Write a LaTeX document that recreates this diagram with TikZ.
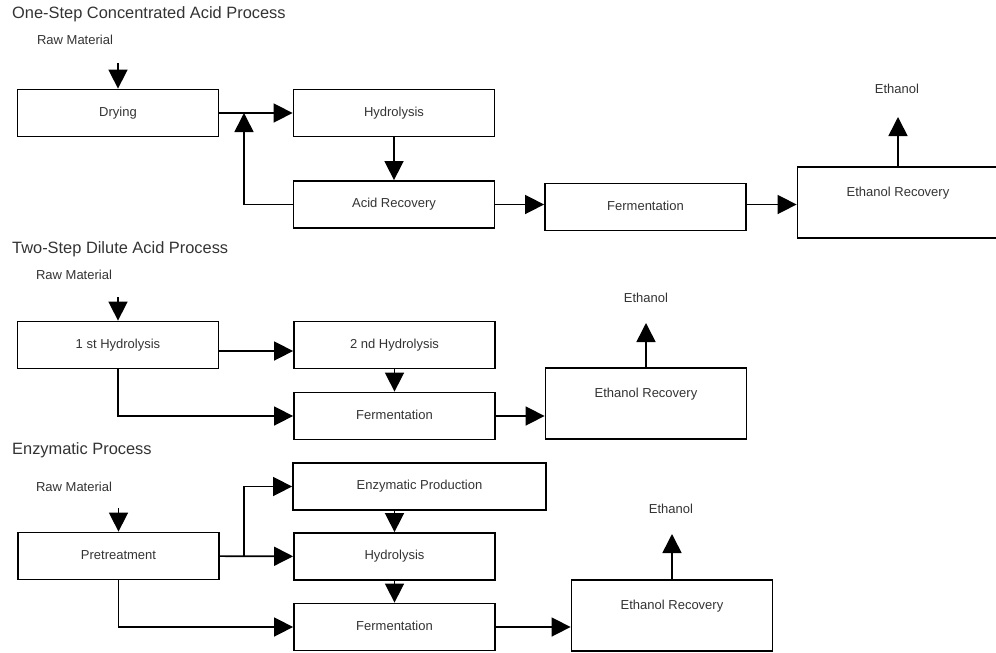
\documentclass[tikz,border=0pt]{standalone}
\usepackage{fontspec}
\setmainfont{Liberation Sans}
\usetikzlibrary{arrows.meta, positioning, calc}

\begin{document}
\begin{tikzpicture}[x=1pt, y=-1pt,
  box/.style={draw, line width=1.8pt, minimum width=201pt, minimum height=47pt, inner sep=0pt,
    text height=9.5pt, text depth=2.8pt, text=black!80, font={\fontsize{13}{15}\selectfont}},
  recbox/.style={box, minimum height=71pt, text depth=21pt},
  lbl/.style={text=black!80, font={\fontsize{13}{15}\selectfont}},
  ttl/.style={anchor=west, inner sep=0pt, text=black!80, font={\fontsize{16.4}{19}\selectfont}},
  arr/.style={-{Triangle[length=19pt, width=19pt]}, line width=1.6pt}]
\useasboundingbox (0,0) rectangle (996,653);

% One-step concentrated acid process
\node[ttl] (t1) at (12,14) {One-Step Concentrated Acid Process};
\node[lbl] (raw1) at (75,40) {Raw Material};
\node[box] (dry) at (118,113) {Drying};
\node[box] (hyd1) at (394,113) {Hydrolysis};
\node[box] (acid) at (394,204.5) {Acid Recovery};
\node[box] (ferm1) at (645.5,207) {Fermentation};
\node[recbox] (erec1) at (898,202.5) {Ethanol Recovery};
\node[lbl] (eth1) at (897,89) {Ethanol};
\coordinate (in1) at (118,63);
\coordinate (out1) at (898,117);
\coordinate (join1) at (244,113);

\draw[arr] (in1) -- (dry);
\draw[arr] (dry) -- (hyd1);
\draw[arr] (hyd1) -- (acid);
\draw[arr] (acid.west) -| (join1);
\draw[arr] (acid.east) -- (acid.east -| ferm1.west);
\draw[arr] (ferm1.east |- acid) -- (erec1.west |- acid);
\draw[arr] (erec1) -- (out1);

% Two-step dilute acid process
\node[ttl] (t2) at (12,249) {Two-Step Dilute Acid Process};
\node[lbl] (raw2) at (74,275) {Raw Material};
\node[box] (hyd21) at (118,345) {1 st Hydrolysis};
\node[box] (hyd22) at (394.5,345) {2 nd Hydrolysis};
\node[box] (ferm2) at (394.5,416) {Fermentation};
\node[recbox] (erec2) at (646,403.5) {Ethanol Recovery};
\node[lbl] (eth2) at (646,298) {Ethanol};
\coordinate (in2) at (118,297);
\coordinate (out2) at (646,323);

\draw[arr] (in2) -- (hyd21);
\draw[arr] ([yshift=-6pt]hyd21.east) -- ([yshift=-6pt]hyd22.west);
\draw[arr] (hyd22) -- (ferm2);
\draw[arr] (hyd21) |- (ferm2);
\draw[arr] (ferm2.east) -- (ferm2.east -| erec2.west);
\draw[arr] (erec2) -- (out2);

% Enzymatic process
\node[ttl] (t3) at (12,450) {Enzymatic Process};
\node[lbl] (raw3) at (74,487) {Raw Material};
\node[box] (pre) at (118.5,556) {Pretreatment};
\node[box, minimum width=253pt] (enz) at (419.5,486.5) {Enzymatic Production};
\node[box] (hyd3) at (394.5,556.5) {Hydrolysis};
\node[box] (ferm3) at (394.5,627) {Fermentation};
\node[recbox] (erec3) at (672,615.5) {Ethanol Recovery};
\node[lbl] (eth3) at (671,509) {Ethanol};
\coordinate (in3) at (118.5,508);
\coordinate (out3) at (672,534);
\coordinate (split3) at (244,556.5);

\draw[arr] (in3) -- (pre);
\draw[arr] (pre) -- (hyd3);
\draw[arr] (split3) |- (enz);
\draw[arr] (hyd3.north |- enz.south) -- (hyd3);
\draw[arr] (hyd3) -- (ferm3);
\draw[arr] (pre) |- (ferm3);
\draw[arr] (ferm3.east) -- (ferm3.east -| erec3.west);
\draw[arr] (erec3) -- (out3);
\end{tikzpicture}
\end{document}
